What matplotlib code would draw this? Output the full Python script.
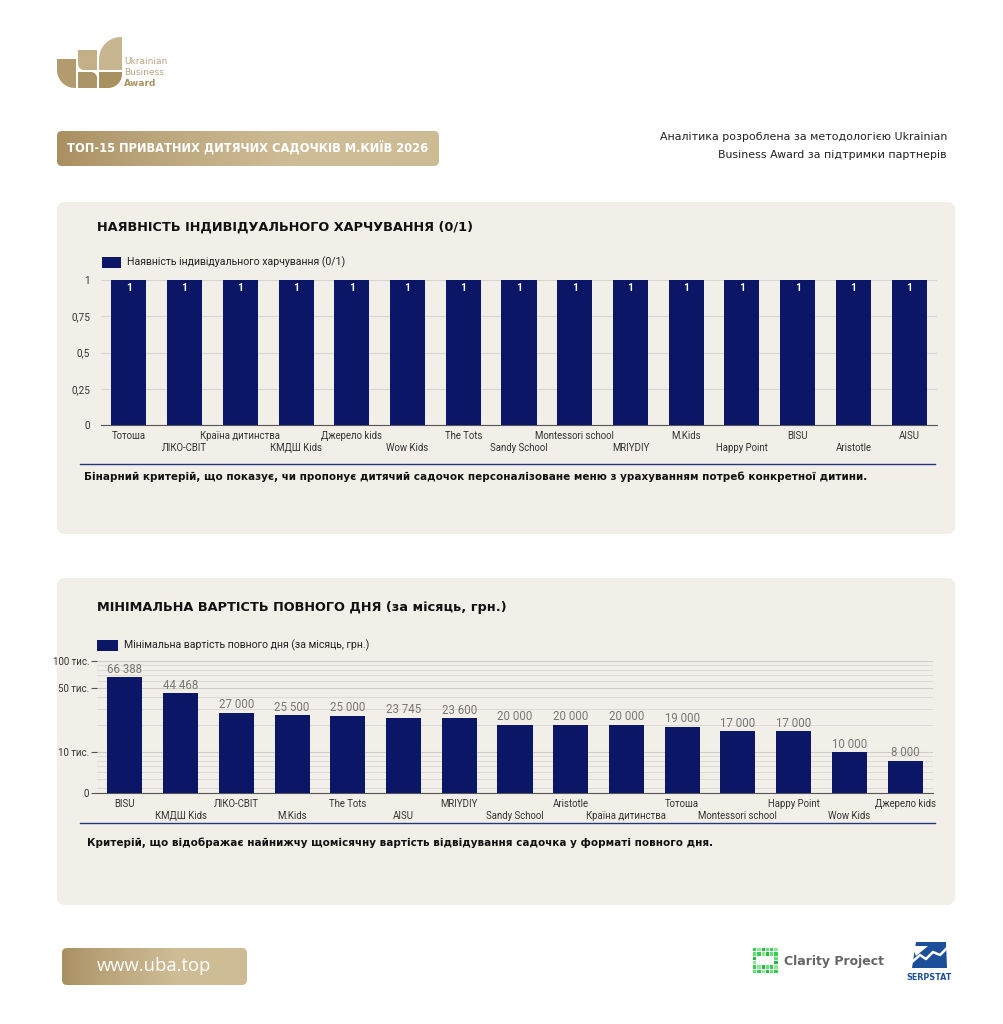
import matplotlib

matplotlib.use("Agg")
import matplotlib.pyplot as plt
import numpy as np
from matplotlib.patches import FancyBboxPatch, Rectangle, Polygon
from matplotlib.ticker import FixedLocator, NullFormatter, LogLocator

W, H = 1004, 1024
NAVY = "#0b1666"
PANEL = "#f2efe8"
LABEL_FONT = "Roboto"

# data: individual meals (0/1)
meal_names = ["Тотоша", "ЛІКО-СВІТ", "Країна дитинства", "КМДШ Kids", "Джерело kids",
              "Wow Kids", "The Tots", "Sandy School", "Montessori school", "MRIYDIY",
              "M.Kids", "Happy Point", "BISU", "Aristotle", "AISU"]
meal_values = [1, 1, 1, 1, 1, 1, 1, 1, 1, 1, 1, 1, 1, 1, 1]
meal_ticks = [0, 0.25, 0.5, 0.75, 1]
meal_tick_labels = ["0", "0,25", "0,5", "0,75", "1"]

# data: minimal full-day price per month, UAH
price_names = ["BISU", "КМДШ Kids", "ЛІКО-СВІТ", "M.Kids", "The Tots", "AISU", "MRIYDIY",
               "Sandy School", "Aristotle", "Країна дитинства", "Тотоша",
               "Montessori school", "Happy Point", "Wow Kids", "Джерело kids"]
price_values = [66388, 44468, 27000, 25500, 25000, 23745, 23600, 20000, 20000, 20000,
                19000, 17000, 17000, 10000, 8000]
price_ticks = [10000, 50000, 100000]
price_tick_labels = ["10 тис.", "50 тис.", "100 тис."]
price_floor = 3543  # where the log axis shows "0"

fig = plt.figure(figsize=(W / 100, H / 100), dpi=100)
fig.patch.set_facecolor("white")
bg = fig.add_axes([0, 0, 1, 1])
bg.set_xlim(0, W)
bg.set_ylim(H, 0)
bg.axis("off")


def px_axes(x0, y0, x1, y1):
    return fig.add_axes([x0 / W, 1 - y1 / H, (x1 - x0) / W, (y1 - y0) / H])


def gold_box(x0, y0, x1, y1, r):
    box = FancyBboxPatch((x0 + r, y0 + r), x1 - x0 - 2 * r, y1 - y0 - 2 * r,
                         boxstyle=f"round,pad={r}", fc="none", ec="none")
    bg.add_patch(box)
    t = np.linspace(0, 1, 256)
    k = np.clip(t * 1.6, 0, 1) ** 0.8 - 0.12 * np.clip(t - 0.75, 0, 1)
    c0 = np.array([0.66, 0.56, 0.38])
    c1 = np.array([0.81, 0.74, 0.59])
    img = c0 + (c1 - c0) * k[:, None]
    img = np.tile(img[None, :, :], (8, 1, 1))
    im = bg.imshow(img, extent=[x0, x1, y1, y0], aspect="auto", zorder=1)
    im.set_clip_path(box)
    bg.set_xlim(0, W)
    bg.set_ylim(H, 0)


def rounded_piece(x0, y0, x1, y1, corner, r, color):
    # rectangle in screen px with one rounded corner: tl, tr, bl, br
    a = np.linspace(0, np.pi / 2, 20)
    if corner == "bl":
        cx, cy = x0 + r, y1 - r
        arc = [(cx - r * np.cos(t), cy + r * np.sin(t)) for t in a]
        pts = [(x0, y0), (x1, y0), (x1, y1)] + arc[::-1]
    elif corner == "tl":
        cx, cy = x0 + r, y0 + r
        arc = [(cx - r * np.cos(t), cy - r * np.sin(t)) for t in a]
        pts = arc + [(x1, y0), (x1, y1), (x0, y1)]
    elif corner == "br":
        cx, cy = x1 - r, y1 - r
        arc = [(cx + r * np.cos(t), cy + r * np.sin(t)) for t in a]
        pts = [(x0, y0), (x1, y0)] + arc + [(x0, y1)]
    else:
        cx, cy = x1 - r, y0 + r
        arc = [(cx + r * np.cos(t), cy - r * np.sin(t)) for t in a]
        pts = [(x0, y0)] + arc[::-1] + [(x1, y1), (x0, y1)]
    bg.add_patch(Polygon(pts, closed=True, fc=color, ec="none"))


# panels
for y0, y1 in [(202, 534), (578, 905)]:
    bg.add_patch(FancyBboxPatch((57 + 8, y0 + 8), 898 - 16, y1 - y0 - 16,
                                boxstyle="round,pad=8", fc=PANEL, ec="none", zorder=0))

# logo (Ukrainian Business Award)
rounded_piece(57, 59, 76, 88, "bl", 18, "#b29b6e")
rounded_piece(78, 50, 97, 70, "bl", 6, "#c4b087")
rounded_piece(78, 72, 97, 88, "tr", 6, "#ab9465")
rounded_piece(99, 37, 122, 70, "tl", 22, "#c8b690")
rounded_piece(99, 72, 122, 88, "br", 14, "#a89161")
bg.text(124, 61, "Ukrainian", fontsize=6.5, color="#b8a47e", va="center")
bg.text(124, 72.5, "Business", fontsize=6.5, color="#b8a47e", va="center")
bg.text(124, 84, "Award", fontsize=6.5, color="#a89260", va="center", fontweight="bold")

# header
gold_box(57, 131, 439, 166, 5)
bg.text(248, 149, "ТОП-15 ПРИВАТНИХ ДИТЯЧИХ САДОЧКІВ М.КИЇВ 2026", color="white",
        fontsize=8.3, fontweight="bold", ha="center", va="center", zorder=3)
bg.text(947, 137, "Аналітика розроблена за методологією Ukrainian", fontsize=7.9,
        color="#222222", ha="right", va="center")
bg.text(947, 155, "Business Award за підтримки партнерів", fontsize=7.9,
        color="#222222", ha="right", va="center")

# footer
gold_box(62, 948, 247, 985, 5)
bg.text(154, 966, "www.uba.top", color="white", fontsize=13.2, ha="center", va="center",
        zorder=3, family="Open Sans")
greens = ["#2bd34a", "#5fe06f", "#1fbf3d", "#8ae895"]
for i in range(6):
    for j in range(6):
        if 1 <= i <= 4 and 2 <= j <= 3:
            continue
        bg.add_patch(Rectangle((753 + i * 4.3, 948 + j * 4.3), 3.3, 3.3,
                               fc=greens[(i * 3 + j) % 4], ec="none"))
bg.text(784, 961, "Clarity Project", fontsize=9, color="#666666", fontweight="bold",
        va="center")
bg.add_patch(Polygon([(916, 942), (946, 942), (947, 968), (912, 968)], fc="#1b4f9a", ec="none"))
bg.add_patch(Polygon([(912, 946), (928, 946), (916, 956)], fc="white", ec="none"))
bg.plot([912, 920, 926, 933, 940, 947], [962, 955, 959, 952, 955, 948], color="white", lw=1.8)
bg.text(929, 977, "SERPSTAT", fontsize=5.8, color="#1b4f9a", fontweight="bold",
        ha="center", va="center")


def category_labels(ax, names):
    # alternate two rows like the source chart
    for i, n in enumerate(names):
        ax.annotate(n, xy=(i, 0), xycoords=("data", "axes fraction"),
                    xytext=(0, -4 if i % 2 == 0 else -13), textcoords="offset points",
                    ha="center", va="top", fontsize=6.9, color="#333333",
                    family=LABEL_FONT)


def style_axes(ax):
    ax.set_facecolor("none")
    for s in ["top", "right", "left"]:
        ax.spines[s].set_visible(False)
    ax.spines["bottom"].set_color("#555555")
    ax.set_xticks([])
    ax.tick_params(axis="y", which="both", length=0, pad=8, labelsize=7.2,
                   labelcolor="#333333")
    for lab in ax.get_yticklabels():
        lab.set_family(LABEL_FONT)
    ax.set_axisbelow(True)


# ---- chart 1 ----
bg.text(97, 227, "НАЯВНІСТЬ ІНДИВІДУАЛЬНОГО ХАРЧУВАННЯ (0/1)", fontsize=9.3,
        fontweight="bold", color="#111111", va="center")
bg.add_patch(Rectangle((102, 257), 19, 11, fc=NAVY, ec="none"))
bg.text(127, 262.5, "Наявність індивідуального харчування (0/1)", fontsize=7.6,
        color="#222222", va="center", family=LABEL_FONT)
ax1 = px_axes(101, 280, 937, 425)
x1 = np.arange(len(meal_names))
bars1 = ax1.bar(x1, meal_values, width=0.63, color=NAVY, zorder=3)
for b, v in zip(bars1, meal_values):
    ax1.annotate(f"{v}", (b.get_x() + b.get_width() / 2, v), xytext=(0, -5.5),
                 textcoords="offset points", ha="center", va="center", color="white",
                 fontsize=7.5, fontweight="bold", family=LABEL_FONT)
ax1.set_xlim(-0.5, len(meal_names) - 0.5)
ax1.set_ylim(0, 1)
ax1.set_yticks(meal_ticks)
ax1.set_yticklabels(meal_tick_labels)
ax1.grid(axis="y", color="#d8d6d0", lw=0.8)
style_axes(ax1)
category_labels(ax1, meal_names)
bg.plot([80, 935], [464, 464], color="#2a3580", lw=1)
bg.text(84, 477, "Бінарний критерій, що показує, чи пропонує дитячий садочок персоналізоване "
        "меню з урахуванням потреб конкретної дитини.", fontsize=7.5, fontweight="bold",
        color="#111111", va="center")

# ---- chart 2 ----
bg.text(97, 607, "МІНІМАЛЬНА ВАРТІСТЬ ПОВНОГО ДНЯ (за місяць, грн.)", fontsize=9.3,
        fontweight="bold", color="#111111", va="center")
bg.add_patch(Rectangle((97, 640), 21, 11, fc=NAVY, ec="none"))
bg.text(124, 645.5, "Мінімальна вартість повного дня (за місяць, грн.)", fontsize=7.6,
        color="#222222", va="center", family=LABEL_FONT)
ax2 = px_axes(97, 661, 933, 793)
x2 = np.arange(len(price_names))
ax2.set_yscale("log")
ax2.set_ylim(price_floor, 100000)
ax2.bar(x2, [v - price_floor for v in price_values], bottom=price_floor,
        width=0.63, color=NAVY, zorder=3)
for xi, v in zip(x2, price_values):
    ax2.annotate(f"{v:,}".replace(",", " "), (xi, v), xytext=(0, 1),
                 textcoords="offset points", ha="center", va="bottom", color="#777777",
                 fontsize=8.3, family=LABEL_FONT)
ax2.set_xlim(-0.5, len(price_names) - 0.5)
ax2.yaxis.set_major_locator(FixedLocator([price_floor] + price_ticks))
ax2.set_yticklabels(["0"] + price_tick_labels)
ax2.yaxis.set_minor_locator(LogLocator(base=10, subs=np.arange(2, 10)))
ax2.yaxis.set_minor_formatter(NullFormatter())
ax2.grid(axis="y", which="major", color="#cfcdc7", lw=0.8)
ax2.grid(axis="y", which="minor", color="#dcdad4", lw=0.7)
style_axes(ax2)
ax2.tick_params(axis="y", which="major", length=4, color="#555555", pad=1.5, labelsize=7)
category_labels(ax2, price_names)
bg.plot([80, 935], [823, 823], color="#2a3580", lw=1)
bg.text(87, 843, "Критерій, що відображає найнижчу щомісячну вартість відвідування садочка "
        "у форматі повного дня.", fontsize=7.45, fontweight="bold", color="#111111",
        va="center")

fig.savefig("out.png", dpi=100, facecolor="white")
